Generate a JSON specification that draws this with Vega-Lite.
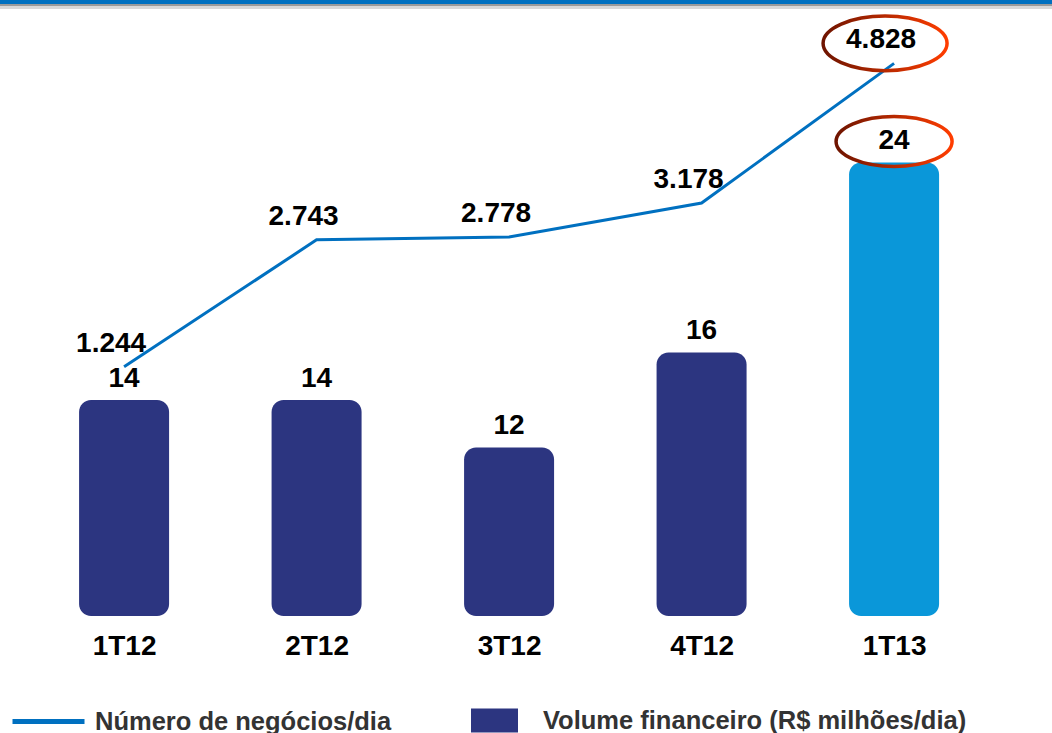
{
  "$schema": "https://vega.github.io/schema/vega-lite/v6.json",
  "width": 1052,
  "height": 596,
  "autosize": {"type": "none"},
  "padding": {"top": 20, "left": 0, "right": 0, "bottom": 117},
  "background": "white",
  "config": {"view": {"stroke": null}, "font": "Liberation Sans"},
  "data": {"values": [
    {"tri": "1T12", "volume": 14, "negocios": 1244, "rotulo": "1.244"},
    {"tri": "2T12", "volume": 14, "negocios": 2743, "rotulo": "2.743"},
    {"tri": "3T12", "volume": 12, "negocios": 2778, "rotulo": "2.778"},
    {"tri": "4T12", "volume": 16, "negocios": 3178, "rotulo": "3.178"},
    {"tri": "1T13", "volume": 24, "negocios": 4828, "rotulo": "4.828"}
  ]},
  "layer": [
    {
      "layer": [
        {
          "data": {"values": [{"borda": 30.758}]},
          "mark": {"type": "rule", "color": "#0070C0", "strokeWidth": 4},
          "encoding": {"y": {"field": "borda", "type": "quantitative", "scale": {"domain": [4.9, 30], "zero": false, "nice": false}, "axis": null}}
        },
        {
          "data": {"values": [{"borda": 30.632}]},
          "mark": {"type": "rule", "color": "#9a9a9a", "strokeWidth": 2},
          "encoding": {"y": {"field": "borda", "type": "quantitative"}}
        },
        {
          "data": {"values": [{"borda": 30.527}]},
          "mark": {"type": "rule", "color": "#d8d8d8", "strokeWidth": 3},
          "encoding": {"y": {"field": "borda", "type": "quantitative"}}
        },
        {
          "mark": {"type": "bar", "width": 90, "cornerRadius": 12},
          "encoding": {
            "x": {"field": "tri", "type": "ordinal", "sort": null,
              "scale": {"type": "point", "padding": 0.7325, "align": 0.44},
              "axis": {"title": null, "domain": false, "ticks": false, "labelAngle": 0, "labelFontSize": 28, "labelFontWeight": "bold", "labelColor": "#000000", "labelPadding": 16, "labelFont": "Liberation Sans"}},
            "y": {"field": "volume", "type": "quantitative"},
            "y2": {"datum": 4.9},
            "fill": {
              "condition": {"test": "datum.tri === '1T13'", "value": "#0A97D9"},
              "datum": "Volume financeiro (R$ milhões/dia)",
              "type": "nominal",
              "scale": {"range": ["#2C3580"]},
              "legend": {"orient": "none", "legendX": 471, "legendY": 677, "title": null, "symbolType": "M -1 -0.51 H 1 V 0.51 H -1 Z", "symbolSize": 2209, "symbolStrokeWidth": 0, "labelFontSize": 25.5, "labelFontWeight": "bold", "labelColor": "#333333", "labelFont": "Liberation Sans", "labelOffset": 25, "labelLimit": 0}
            }
          }
        },
        {
          "mark": {"type": "text", "dy": -21, "baseline": "middle", "fontSize": 28, "fontWeight": "bold", "color": "#000000"},
          "encoding": {
            "x": {"field": "tri", "type": "ordinal", "sort": null},
            "y": {"field": "volume", "type": "quantitative"},
            "text": {"field": "volume", "type": "quantitative"}
          }
        },
        {
          "transform": [{"filter": "datum.tri === '1T13'"}],
          "mark": {"type": "point", "shape": "M -1 0 A 1 0.43 0 1 1 1 0 A 1 0.43 0 1 1 -1 0 Z", "size": 13456, "filled": false, "strokeWidth": 3.5, "opacity": 1, "yOffset": -21,
            "stroke": {"gradient": "linear", "x1": 0, "y1": 0, "x2": 1, "y2": 0, "stops": [{"offset": 0, "color": "#6E1400"}, {"offset": 1, "color": "#FF3D00"}]}},
          "encoding": {
            "x": {"field": "tri", "type": "ordinal", "sort": null},
            "y": {"field": "volume", "type": "quantitative"}
          }
        }
      ]
    },
    {
      "layer": [
        {
          "mark": {"type": "line", "strokeWidth": 3},
          "encoding": {
            "x": {"field": "tri", "type": "ordinal", "sort": null},
            "y": {"field": "negocios", "type": "quantitative", "scale": {"domain": [-1700, 5340], "zero": false, "nice": false}, "axis": null},
            "stroke": {
              "datum": "Número de negócios/dia",
              "type": "nominal",
              "scale": {"range": ["#0070C0"]},
              "legend": {"orient": "none", "legendX": 10, "legendY": 663, "title": null, "symbolType": "stroke", "symbolSize": 5184, "symbolStrokeWidth": 5, "labelFontSize": 25.5, "labelFontWeight": "bold", "labelColor": "#333333", "labelFont": "Liberation Sans", "labelOffset": 8, "labelLimit": 0}
            }
          }
        },
        {
          "mark": {"type": "text", "dx": -13, "dy": -23, "baseline": "middle", "fontSize": 28, "fontWeight": "bold", "color": "#000000"},
          "encoding": {
            "x": {"field": "tri", "type": "ordinal", "sort": null},
            "y": {"field": "negocios", "type": "quantitative"},
            "text": {"field": "rotulo", "type": "nominal"}
          }
        },
        {
          "transform": [{"filter": "datum.tri === '1T13'"}],
          "mark": {"type": "point", "shape": "M -1 0 A 1 0.44 0 1 1 1 0 A 1 0.44 0 1 1 -1 0 Z", "size": 15376, "filled": false, "strokeWidth": 3.5, "opacity": 1, "yOffset": -20, "xOffset": -9,
            "stroke": {"gradient": "linear", "x1": 0, "y1": 0, "x2": 1, "y2": 0, "stops": [{"offset": 0, "color": "#6E1400"}, {"offset": 1, "color": "#FF3D00"}]}},
          "encoding": {
            "x": {"field": "tri", "type": "ordinal", "sort": null},
            "y": {"field": "negocios", "type": "quantitative"}
          }
        }
      ]
    }
  ],
  "resolve": {"scale": {"y": "independent"}}
}
